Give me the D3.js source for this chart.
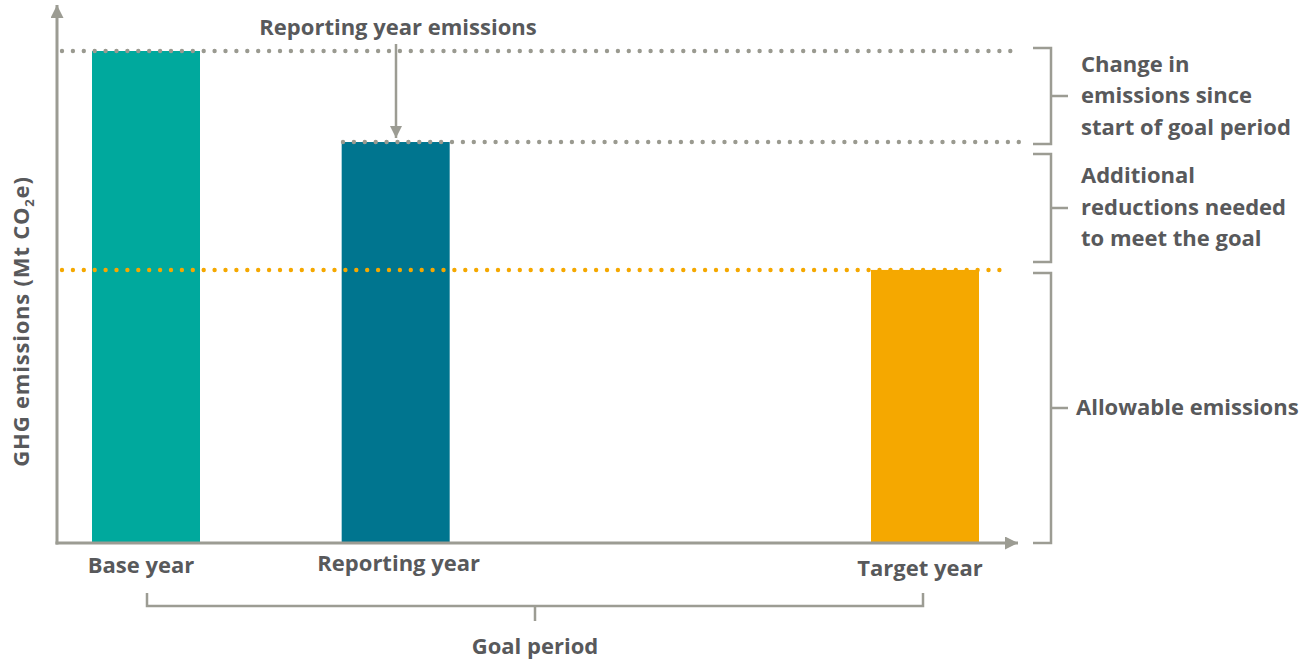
<!DOCTYPE html>
<html>
<head>
<meta charset="utf-8">
<script src="https://cdn.jsdelivr.net/npm/d3@7/dist/d3.min.js"></script>
<style>
  html, body { margin: 0; padding: 0; background: #fff; }
  svg { display: block; }
  text { font-family: "Open Sans", Lato, sans-serif; font-weight: 700; fill: #58595b; }
</style>
</head>
<body>
<svg id="chart" width="1314" height="664"></svg>
<script>
// ---- data ----
const categories = ["Base year", "Reporting year", "Target year"];
const periodIndex = [0, 1, 3.12];           // relative position in time of each year
const emissions = [100, 81.5, 55.5];         // relative GHG emissions
const barColors = ["#00a99d", "#00758f", "#f5a800"];
const bracketLabels = [
  ["Change in", "emissions since", "start of goal period"],
  ["Additional", "reductions needed", "to meet the goal"],
  ["Allowable emissions"]
];
const yTitle = "GHG emissions (Mt CO";
const annotation = "Reporting year emissions";
const periodLabel = "Goal period";

// ---- layout ----
const svg = d3.select("#chart");
const axisColor = "#9c9c93";
const dotGrey = "#9a9a90";
const x0 = 57, yBase = 543;
const x = d3.scaleLinear().domain([0, 3.12]).range([146, 925]);
const y = d3.scaleLinear().domain([0, 100]).range([yBase, 51]);
const barW = 108;
const fs = 22;

// arrow markers
const defs = svg.append("defs");
function marker(id, w, h) {
  defs.append("marker").attr("id", id)
    .attr("viewBox", "0 0 10 10").attr("refX", 10).attr("refY", 5)
    .attr("markerUnits", "userSpaceOnUse")
    .attr("markerWidth", w).attr("markerHeight", h).attr("orient", "auto")
    .append("path").attr("d", "M0,0 L10,5 L0,10 Z").attr("fill", axisColor);
}
marker("axArrow", 19, 13);
marker("smArrow", 15, 12);

// bars
svg.append("g").selectAll("rect").data(categories).join("rect")
  .attr("x", (d, i) => x(periodIndex[i]) - barW / 2)
  .attr("y", (d, i) => y(emissions[i]))
  .attr("width", barW)
  .attr("height", (d, i) => yBase - y(emissions[i]))
  .attr("fill", (d, i) => barColors[i]);

// dotted reference lines
function dotted(x1, x2, v, color) {
  svg.append("line")
    .attr("x1", x1).attr("x2", x2).attr("y1", y(v)).attr("y2", y(v))
    .attr("stroke", color).attr("stroke-width", 4.4)
    .attr("stroke-linecap", "round").attr("stroke-dasharray", "0 10.9");
}
dotted(62, 1019, emissions[0], dotGrey);
dotted(343, 1019, emissions[1], dotGrey);
dotted(62, 1006, emissions[2], "#f5a800");

// axes
svg.append("line").attr("x1", x0).attr("x2", x0).attr("y1", yBase + 1.5).attr("y2", 5)
  .attr("stroke", axisColor).attr("stroke-width", 3).attr("marker-end", "url(#axArrow)");
svg.append("line").attr("x1", x0 - 1.5).attr("x2", 1018).attr("y1", yBase).attr("y2", yBase)
  .attr("stroke", axisColor).attr("stroke-width", 3).attr("marker-end", "url(#axArrow)");

// category labels
svg.append("g").selectAll("text").data(categories).join("text")
  .attr("x", (d, i) => x(periodIndex[i]) + [ -5, 3, -5 ][i])
  .attr("y", (d, i) => [573, 571, 576][i])
  .attr("text-anchor", "middle")
  .attr("font-size", fs)
  .text(d => d);

// y title
const yt = svg.append("text")
  .attr("transform", `translate(29, ${(181 + 462) / 2}) rotate(-90)`)
  .attr("text-anchor", "middle").attr("font-size", fs).attr("letter-spacing", 0.8);
yt.append("tspan").text(yTitle);
yt.append("tspan").attr("font-size", 13).attr("dy", 5).text("2");
yt.append("tspan").attr("dy", -5).text("e)");

// annotation
svg.append("text").attr("x", 398).attr("y", 35).attr("text-anchor", "middle")
  .attr("font-size", fs).text(annotation);
svg.append("line").attr("x1", 396).attr("x2", 396).attr("y1", 44).attr("y2", y(emissions[1]) - 4)
  .attr("stroke", axisColor).attr("stroke-width", 2.5).attr("marker-end", "url(#smArrow)");

// right-hand brackets
const bx = 1051, bxl = 1033, btick = 1068;
const bracketRanges = [
  [y(emissions[0]) - 3, y(emissions[1]) + 2],
  [y(emissions[1]) + 12, y(emissions[2]) - 8],
  [y(emissions[2]) + 3, yBase]
];
const gB = svg.append("g");
bracketRanges.forEach((r, i) => {
  const mid = (r[0] + r[1]) / 2;
  gB.append("path")
    .attr("d", `M${bxl},${r[0]} H${bx} V${r[1]} H${bxl} M${bx},${mid} H${btick}`)
    .attr("fill", "none").attr("stroke", axisColor).attr("stroke-width", 2.5);
  const lines = bracketLabels[i];
  const lh = 31.5;
  const t = gB.append("text").attr("font-size", fs);
  lines.forEach((ln, j) => {
    t.append("tspan")
      .attr("x", lines.length === 1 ? 1076 : 1081)
      .attr("y", mid + 7 + (j - (lines.length - 1) / 2) * lh)
      .text(ln);
  });
});

// goal period bracket
const gl = x(periodIndex[0]) + 1, gr = x(periodIndex[2]) - 2, gm = (gl + gr) / 2;
svg.append("path")
  .attr("d", `M${gl},593 V606 H${gr} V593 M${gm},606 V621`)
  .attr("fill", "none").attr("stroke", axisColor).attr("stroke-width", 2.5);
svg.append("text").attr("x", gm).attr("y", 654).attr("text-anchor", "middle")
  .attr("font-size", fs).text(periodLabel);
</script>
</body>
</html>
